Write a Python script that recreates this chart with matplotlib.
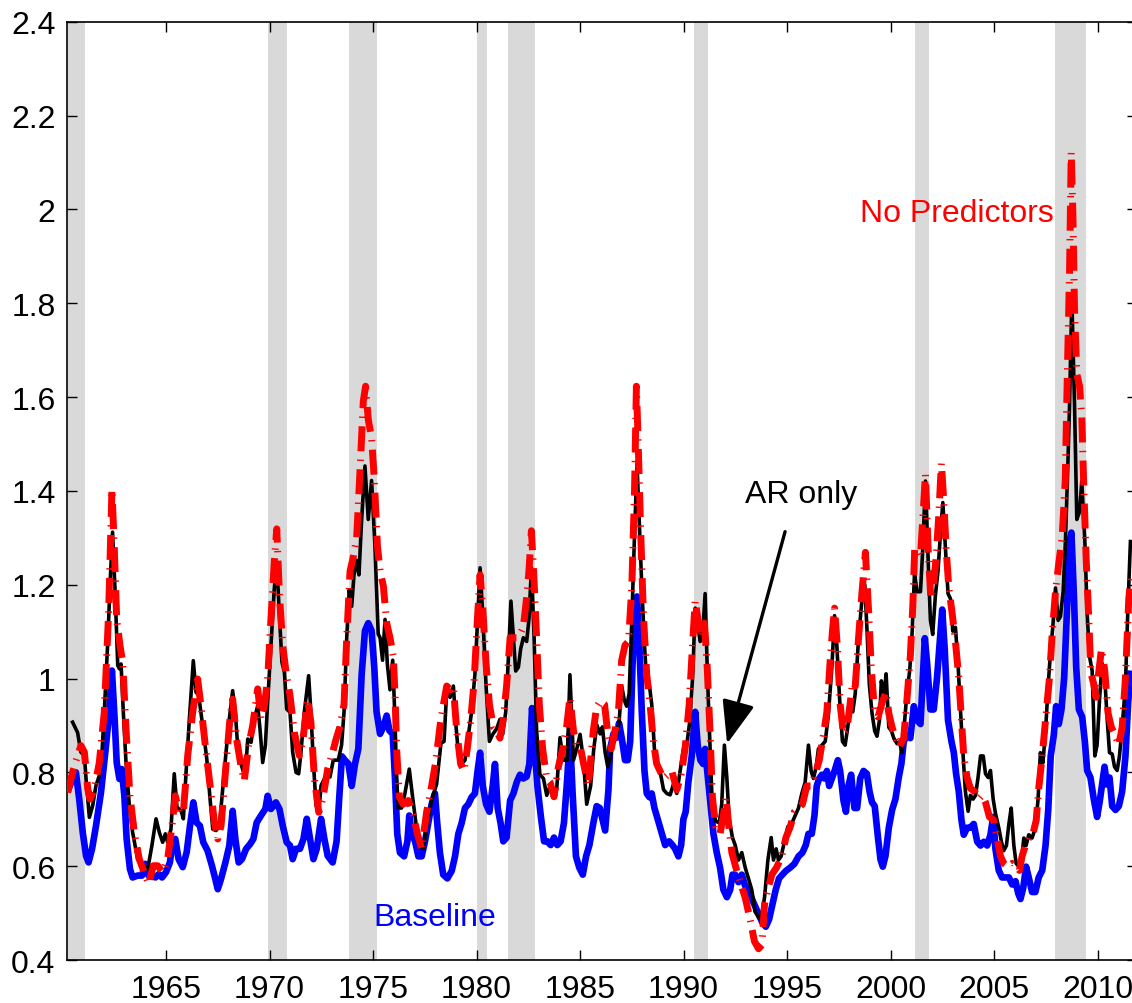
import numpy as np
import matplotlib
matplotlib.use("Agg")
import matplotlib.pyplot as plt

# NBER recessions (start, end) in fractional years
recessions = [(1960.25, 1961.08), (1969.92, 1970.83), (1973.83, 1975.17),
              (1980.0, 1980.5), (1981.5, 1982.83), (1990.5, 1991.17),
              (2001.17, 2001.83), (2007.92, 2009.42)]

# AR only (black)
ar_year = [1960.49, 1960.73, 1960.89, 1961.06, 1961.14, 1961.30, 1961.46, 1961.62, 1961.78, 1961.91,
           1962.02, 1962.18, 1962.31, 1962.42, 1962.55, 1962.67, 1962.75, 1962.83, 1962.94, 1963.07,
           1963.23, 1963.39, 1963.63, 1963.87, 1964.12, 1964.32, 1964.52, 1964.68, 1964.84, 1964.97,
           1965.08, 1965.24, 1965.40, 1965.53, 1965.73, 1965.84, 1965.97, 1966.13, 1966.32, 1966.45,
           1966.58, 1966.77, 1966.97, 1967.13, 1967.26, 1967.42, 1967.58, 1967.74, 1967.90, 1968.06,
           1968.22, 1968.35, 1968.46, 1968.58, 1968.70, 1968.82, 1968.95, 1969.11, 1969.27, 1969.43,
           1969.54, 1969.67, 1969.80, 1969.91, 1970.07, 1970.23, 1970.35, 1970.48, 1970.60, 1970.72,
           1970.83, 1970.99, 1971.12, 1971.28, 1971.41, 1971.52, 1971.68, 1971.89, 1972.00, 1972.12,
           1972.25, 1972.38, 1972.49, 1972.65, 1972.81, 1972.92, 1973.08, 1973.32, 1973.48, 1973.60,
           1973.73, 1973.85, 1973.97, 1974.08, 1974.21, 1974.32, 1974.45, 1974.61, 1974.77, 1974.93,
           1975.09, 1975.25, 1975.34, 1975.46, 1975.58, 1975.69, 1975.82, 1975.95, 1976.06, 1976.14,
           1976.22, 1976.38, 1976.54, 1976.75, 1976.91, 1977.07, 1977.27, 1977.43, 1977.62, 1977.83,
           1978.07, 1978.28, 1978.43, 1978.56, 1978.72, 1978.88, 1979.01, 1979.12, 1979.28, 1979.44,
           1979.60, 1979.76, 1979.92, 1980.05, 1980.17, 1980.30, 1980.46, 1980.62, 1980.78, 1980.97,
           1981.13, 1981.26, 1981.41, 1981.54, 1981.66, 1981.78, 1981.89, 1982.02, 1982.13, 1982.26,
           1982.42, 1982.53, 1982.65, 1982.78, 1982.90, 1983.06, 1983.23, 1983.39, 1983.55, 1983.71,
           1983.87, 1984.03, 1984.19, 1984.38, 1984.51, 1984.68, 1984.84, 1985.00, 1985.16, 1985.32,
           1985.51, 1985.66, 1985.81, 1985.97, 1986.08, 1986.21, 1986.34, 1986.50, 1986.61, 1986.77,
           1986.88, 1987.01, 1987.14, 1987.25, 1987.37, 1987.50, 1987.63, 1987.75, 1987.87, 1987.98,
           1988.11, 1988.22, 1988.33, 1988.46, 1988.59, 1988.70, 1988.86, 1989.03, 1989.19, 1989.35,
           1989.51, 1989.67, 1989.83, 1989.99, 1990.15, 1990.31, 1990.44, 1990.56, 1990.68, 1990.80,
           1990.91, 1991.04, 1991.15, 1991.28, 1991.39, 1991.55, 1991.72, 1991.84, 1991.97, 1992.09,
           1992.20, 1992.36, 1992.49, 1992.65, 1992.81, 1992.97, 1993.13, 1993.29, 1993.45, 1993.62,
           1993.74, 1993.91, 1994.07, 1994.23, 1994.34, 1994.47, 1994.58, 1994.71, 1994.87, 1995.03,
           1995.23, 1995.39, 1995.55, 1995.71, 1995.87, 1996.03, 1996.16, 1996.27, 1996.40, 1996.51,
           1996.68, 1996.84, 1996.99, 1997.16, 1997.29, 1997.40, 1997.53, 1997.67, 1997.80, 1997.93,
           1998.04, 1998.17, 1998.29, 1998.45, 1998.61, 1998.75, 1998.86, 1998.97, 1999.10, 1999.23,
           1999.34, 1999.46, 1999.55, 1999.67, 1999.78, 1999.91, 2000.04, 2000.15, 2000.31, 2000.42,
           2000.55, 2000.68, 2000.79, 2000.92, 2001.04, 2001.15, 2001.28, 2001.44, 2001.55, 2001.68,
           2001.81, 2001.92, 2002.03, 2002.16, 2002.29, 2002.40, 2002.52, 2002.65, 2002.77, 2002.89,
           2003.00, 2003.13, 2003.26, 2003.37, 2003.50, 2003.61, 2003.74, 2003.85, 2003.98, 2004.10,
           2004.22, 2004.34, 2004.47, 2004.58, 2004.71, 2004.82, 2004.95, 2005.06, 2005.22, 2005.35,
           2005.46, 2005.59, 2005.71, 2005.82, 2005.95, 2006.06, 2006.19, 2006.32, 2006.43, 2006.54,
           2006.67, 2006.83, 2006.99, 2007.12, 2007.23, 2007.35, 2007.48, 2007.61, 2007.73, 2007.83,
           2007.96, 2008.09, 2008.20, 2008.33, 2008.44, 2008.55, 2008.64, 2008.75, 2008.88, 2008.99,
           2009.12, 2009.23, 2009.38, 2009.49, 2009.60, 2009.73, 2009.86, 2009.97, 2010.09, 2010.21,
           2010.34, 2010.46, 2010.57, 2010.70, 2010.81, 2010.94, 2011.05, 2011.18, 2011.34, 2011.45,
           2011.58]
ar_val = [0.907, 0.885, 0.843, 0.836, 0.786, 0.704, 0.729, 0.772, 0.793, 0.843,
          0.928, 1.070, 1.212, 1.312, 1.177, 1.028, 1.021, 1.031, 0.928, 0.821,
          0.729, 0.672, 0.615, 0.601, 0.594, 0.644, 0.701, 0.672, 0.651, 0.669,
          0.651, 0.679, 0.797, 0.726, 0.718, 0.701, 0.800, 0.914, 1.038, 0.971,
          0.964, 0.900, 0.829, 0.743, 0.679, 0.676, 0.686, 0.765, 0.843, 0.914,
          0.974, 0.928, 0.857, 0.825, 0.807, 0.790, 0.871, 0.864, 0.914, 0.942,
          0.893, 0.821, 0.857, 0.949, 1.070, 1.191, 1.248, 1.134, 1.035, 1.013,
          0.935, 0.928, 0.843, 0.800, 0.797, 0.843, 0.928, 1.006, 0.928, 0.821,
          0.729, 0.715, 0.772, 0.786, 0.793, 0.790, 0.826, 0.826, 0.858, 0.929,
          1.087, 1.189, 1.154, 1.221, 1.252, 1.221, 1.339, 1.453, 1.339, 1.422,
          1.284, 1.095, 1.087, 1.039, 1.126, 1.031, 0.976, 1.039, 0.913, 0.787,
          0.724, 0.724, 0.755, 0.807, 0.748, 0.692, 0.645, 0.637, 0.692, 0.740,
          0.775, 0.862, 0.866, 0.976, 0.960, 0.984, 0.897, 0.842, 0.818, 0.826,
          0.877, 0.929, 1.008, 1.126, 1.236, 1.134, 0.984, 0.866, 0.881, 0.893,
          0.913, 0.881, 0.929, 1.047, 1.165, 1.087, 1.016, 1.024, 1.063, 1.087,
          1.079, 1.126, 1.236, 1.087, 0.889, 0.795, 0.787, 0.751, 0.771, 0.763,
          0.763, 0.874, 0.826, 0.826, 1.008, 0.826, 0.850, 0.881, 0.826, 0.732,
          0.771, 0.850, 0.901, 0.882, 0.897, 0.842, 0.811, 0.842, 0.886, 0.882,
          0.905, 0.984, 0.953, 0.941, 0.968, 1.126, 1.308, 1.457, 1.323, 1.197,
          1.071, 0.992, 0.992, 0.945, 0.850, 0.818, 0.803, 0.763, 0.755, 0.752,
          0.775, 0.755, 0.803, 0.850, 0.858, 0.913, 1.008, 1.150, 1.118, 1.079,
          1.087, 1.181, 1.008, 0.850, 0.724, 0.696, 0.692, 0.732, 0.858, 0.787,
          0.700, 0.661, 0.645, 0.613, 0.629, 0.598, 0.574, 0.550, 0.503, 0.491,
          0.487, 0.534, 0.613, 0.661, 0.613, 0.637, 0.613, 0.621, 0.653, 0.684,
          0.692, 0.708, 0.724, 0.755, 0.779, 0.858, 0.803, 0.787, 0.811, 0.850,
          0.858, 0.866, 0.921, 1.024, 1.134, 1.071, 0.960, 0.866, 0.858, 0.897,
          0.945, 0.929, 0.968, 1.087, 1.166, 1.200, 1.101, 0.987, 0.926, 0.888,
          0.877, 0.911, 0.995, 0.957, 1.010, 0.896, 0.888, 0.873, 0.861, 0.865,
          0.842, 0.911, 0.972, 1.017, 1.101, 1.223, 1.185, 1.185, 1.276, 1.421,
          1.254, 1.124, 1.094, 1.177, 1.231, 1.307, 1.375, 1.276, 1.181, 1.170,
          1.101, 1.109, 1.025, 0.934, 0.835, 0.759, 0.717, 0.751, 0.743, 0.751,
          0.789, 0.835, 0.835, 0.797, 0.789, 0.804, 0.743, 0.713, 0.682, 0.652,
          0.633, 0.644, 0.690, 0.724, 0.644, 0.606, 0.599, 0.614, 0.660, 0.644,
          0.667, 0.660, 0.682, 0.743, 0.842, 0.820, 0.888, 0.987, 1.063, 1.109,
          1.193, 1.124, 1.132, 1.185, 1.292, 1.444, 1.583, 1.812, 1.583, 1.339,
          1.355, 1.420, 1.292, 1.139, 1.048, 1.017, 0.835, 0.858, 0.957, 1.033,
          1.002, 0.911, 0.842, 0.839, 0.812, 0.804, 0.835, 0.896, 0.987, 1.139,
          1.292]

# No Predictors (red, dash-dot)
np_year = [1960.25, 1960.49, 1960.62, 1960.89, 1961.06, 1961.22, 1961.33, 1961.54, 1961.78, 1962.02,
           1962.23, 1962.39, 1962.50, 1962.62, 1962.78, 1962.91, 1963.07, 1963.26, 1963.47, 1963.71,
           1963.95, 1964.16, 1964.39, 1964.60, 1964.84, 1965.08, 1965.29, 1965.45, 1965.65, 1965.84,
           1966.05, 1966.29, 1966.53, 1966.69, 1966.90, 1967.13, 1967.34, 1967.50, 1967.66, 1967.87,
           1968.09, 1968.22, 1968.41, 1968.62, 1968.78, 1968.99, 1969.19, 1969.43, 1969.59, 1969.75,
           1969.91, 1970.07, 1970.23, 1970.35, 1970.48, 1970.64, 1970.80, 1970.99, 1971.20, 1971.44,
           1971.62, 1971.84, 1972.00, 1972.17, 1972.38, 1972.57, 1972.81, 1973.05, 1973.21, 1973.40,
           1973.60, 1973.73, 1973.89, 1974.05, 1974.21, 1974.37, 1974.53, 1974.64, 1974.77, 1974.93,
           1975.06, 1975.21, 1975.34, 1975.50, 1975.66, 1975.82, 1975.98, 1976.06, 1976.14, 1976.27,
           1976.46, 1976.70, 1976.95, 1977.14, 1977.35, 1977.59, 1977.83, 1978.04, 1978.23, 1978.40,
           1978.56, 1978.72, 1978.88, 1979.04, 1979.23, 1979.39, 1979.55, 1979.72, 1979.88, 1980.04,
           1980.17, 1980.30, 1980.46, 1980.62, 1980.81, 1980.97, 1981.13, 1981.29, 1981.45, 1981.62,
           1981.78, 1981.94, 1982.10, 1982.26, 1982.42, 1982.53, 1982.65, 1982.78, 1982.90, 1983.03,
           1983.19, 1983.39, 1983.55, 1983.74, 1983.95, 1984.16, 1984.35, 1984.51, 1984.68, 1984.87,
           1985.03, 1985.24, 1985.40, 1985.64, 1985.80, 1985.97, 1986.18, 1986.34, 1986.50, 1986.66,
           1986.85, 1987.01, 1987.17, 1987.34, 1987.50, 1987.63, 1987.72, 1987.82, 1987.93, 1988.06,
           1988.22, 1988.38, 1988.54, 1988.70, 1988.86, 1989.03, 1989.24, 1989.43, 1989.67, 1989.88,
           1990.07, 1990.27, 1990.43, 1990.56, 1990.72, 1990.85, 1991.01, 1991.14, 1991.28, 1991.39,
           1991.55, 1991.76, 1991.92, 1992.04, 1992.17, 1992.33, 1992.52, 1992.73, 1992.97, 1993.21,
           1993.42, 1993.62, 1993.78, 1993.91, 1994.07, 1994.26, 1994.50, 1994.74, 1994.94, 1995.15,
           1995.35, 1995.55, 1995.74, 1995.95, 1996.16, 1996.35, 1996.55, 1996.76, 1996.92, 1997.08,
           1997.19, 1997.29, 1997.42, 1997.56, 1997.72, 1997.88, 1998.04, 1998.16, 1998.29, 1998.45,
           1998.61, 1998.78, 1998.94, 1999.07, 1999.23, 1999.39, 1999.59, 1999.78, 1999.91, 2000.07,
           2000.23, 2000.42, 2000.63, 2000.79, 2000.95, 2001.07, 2001.16, 2001.29, 2001.44, 2001.57,
           2001.68, 2001.81, 2001.94, 2002.07, 2002.19, 2002.32, 2002.45, 2002.57, 2002.68, 2002.81,
           2002.97, 2003.13, 2003.29, 2003.42, 2003.53, 2003.69, 2003.85, 2004.06, 2004.26, 2004.42,
           2004.58, 2004.77, 2004.98, 2005.14, 2005.30, 2005.46, 2005.67, 2005.87, 2006.06, 2006.22,
           2006.35, 2006.51, 2006.67, 2006.86, 2007.03, 2007.15, 2007.32, 2007.51, 2007.67, 2007.80,
           2007.96, 2008.12, 2008.28, 2008.43, 2008.54, 2008.64, 2008.72, 2008.80, 2008.88, 2008.99,
           2009.12, 2009.23, 2009.32, 2009.44, 2009.56, 2009.67, 2009.80, 2009.92, 2010.02, 2010.18,
           2010.34, 2010.50, 2010.66, 2010.83, 2011.02, 2011.18, 2011.34, 2011.50, 2011.60]
np_val = [0.757, 0.800, 0.820, 0.857, 0.843, 0.765, 0.743, 0.765, 0.821, 0.928,
          1.141, 1.404, 1.283, 1.127, 1.070, 1.035, 0.892, 0.750, 0.672, 0.615,
          0.587, 0.562, 0.601, 0.601, 0.587, 0.615, 0.686, 0.750, 0.715, 0.715,
          0.836, 0.928, 0.999, 0.942, 0.857, 0.772, 0.694, 0.658, 0.686, 0.800,
          0.914, 0.956, 0.871, 0.814, 0.782, 0.857, 0.900, 0.978, 0.914, 0.942,
          0.999, 1.127, 1.248, 1.319, 1.177, 1.070, 1.013, 0.964, 0.885, 0.836,
          0.871, 0.956, 0.907, 0.786, 0.715, 0.743, 0.807, 0.843, 0.870, 0.897,
          0.945, 1.087, 1.229, 1.260, 1.300, 1.442, 1.591, 1.623, 1.552, 1.513,
          1.426, 1.284, 1.229, 1.197, 1.118, 1.087, 1.047, 0.968, 0.850, 0.748,
          0.732, 0.740, 0.708, 0.669, 0.637, 0.716, 0.771, 0.826, 0.897, 0.945,
          0.984, 0.976, 0.984, 0.889, 0.818, 0.803, 0.850, 0.913, 0.992, 1.126,
          1.221, 1.150, 1.031, 0.945, 0.897, 0.889, 0.873, 0.913, 0.984, 1.087,
          1.087, 1.087, 1.094, 1.110, 1.173, 1.229, 1.315, 1.205, 1.087, 0.945,
          0.850, 0.787, 0.779, 0.748, 0.811, 0.850, 0.897, 0.960, 0.889, 0.850,
          0.850, 0.803, 0.771, 0.889, 0.940, 0.952, 0.945, 0.882, 0.850, 0.882,
          0.929, 1.039, 1.071, 1.079, 1.197, 1.402, 1.623, 1.481, 1.308, 1.134,
          1.008, 0.945, 0.866, 0.818, 0.803, 0.787, 0.795, 0.803, 0.763, 0.795,
          0.850, 0.945, 1.071, 1.166, 1.118, 1.087, 1.118, 1.024, 0.882, 0.747,
          0.684, 0.669, 0.708, 0.747, 0.692, 0.629, 0.598, 0.566, 0.534, 0.487,
          0.440, 0.424, 0.432, 0.519, 0.550, 0.582, 0.598, 0.621, 0.661, 0.684,
          0.716, 0.724, 0.732, 0.771, 0.771, 0.795, 0.826, 0.882, 0.929, 1.039,
          1.102, 1.150, 1.071, 0.945, 0.882, 0.889, 0.945, 0.992, 0.984, 1.087,
          1.181, 1.269, 1.139, 1.017, 0.926, 0.918, 0.949, 0.972, 0.926, 0.896,
          0.873, 0.854, 0.873, 0.957, 1.048, 1.155, 1.276, 1.276, 1.261, 1.353,
          1.436, 1.276, 1.170, 1.200, 1.254, 1.345, 1.459, 1.375, 1.276, 1.193,
          1.139, 1.078, 1.002, 0.911, 0.835, 0.789, 0.766, 0.759, 0.743, 0.751,
          0.736, 0.705, 0.698, 0.660, 0.622, 0.606, 0.599, 0.606, 0.599, 0.591,
          0.622, 0.644, 0.660, 0.667, 0.698, 0.766, 0.835, 0.926, 1.002, 1.094,
          1.185, 1.246, 1.300, 1.420, 1.665, 1.869, 2.122, 1.991, 1.787, 1.649,
          1.624, 1.559, 1.420, 1.257, 1.135, 1.012, 0.990, 0.960, 1.002, 1.063,
          1.017, 0.926, 0.896, 0.880, 0.858, 0.896, 1.002, 1.170, 1.215]

# Baseline (blue)
bl_year = [1960.30, 1960.49, 1960.65, 1960.81, 1960.98, 1961.14, 1961.26, 1961.43, 1961.62, 1961.86,
           1962.07, 1962.23, 1962.39, 1962.52, 1962.62, 1962.75, 1962.86, 1962.99, 1963.10, 1963.26,
           1963.39, 1963.63, 1963.84, 1964.00, 1964.16, 1964.32, 1964.49, 1964.65, 1964.81, 1965.00,
           1965.19, 1965.32, 1965.45, 1965.61, 1965.81, 1966.00, 1966.16, 1966.32, 1966.48, 1966.64,
           1966.80, 1967.01, 1967.22, 1967.38, 1967.50, 1967.66, 1967.87, 1968.06, 1968.22, 1968.35,
           1968.51, 1968.67, 1968.87, 1969.06, 1969.22, 1969.38, 1969.59, 1969.80, 1969.91, 1970.07,
           1970.31, 1970.48, 1970.64, 1970.83, 1970.99, 1971.12, 1971.28, 1971.47, 1971.64, 1971.80,
           1971.96, 1972.12, 1972.28, 1972.49, 1972.65, 1972.81, 1973.05, 1973.24, 1973.37, 1973.50,
           1973.64, 1973.81, 1973.97, 1974.13, 1974.29, 1974.45, 1974.61, 1974.77, 1974.93, 1975.06,
           1975.17, 1975.34, 1975.50, 1975.66, 1975.79, 1975.95, 1976.06, 1976.17, 1976.30, 1976.50,
           1976.66, 1976.75, 1976.87, 1977.03, 1977.19, 1977.35, 1977.51, 1977.67, 1977.83, 1977.99,
           1978.10, 1978.23, 1978.39, 1978.59, 1978.80, 1978.96, 1979.12, 1979.28, 1979.44, 1979.60,
           1979.76, 1979.92, 1980.05, 1980.17, 1980.30, 1980.46, 1980.62, 1980.78, 1980.89, 1981.02,
           1981.16, 1981.29, 1981.45, 1981.62, 1981.78, 1981.94, 1982.10, 1982.26, 1982.42, 1982.55,
           1982.68, 1982.81, 1982.94, 1983.10, 1983.26, 1983.42, 1983.58, 1983.74, 1983.90, 1984.06,
           1984.22, 1984.38, 1984.51, 1984.64, 1984.80, 1984.96, 1985.13, 1985.29, 1985.45, 1985.64,
           1985.80, 1985.95, 1986.08, 1986.21, 1986.37, 1986.45, 1986.61, 1986.77, 1986.88, 1987.01,
           1987.17, 1987.30, 1987.42, 1987.53, 1987.66, 1987.75, 1987.85, 1987.98, 1988.11, 1988.22,
           1988.35, 1988.46, 1988.59, 1988.75, 1988.95, 1989.11, 1989.30, 1989.46, 1989.59, 1989.75,
           1989.88, 1989.99, 1990.10, 1990.23, 1990.39, 1990.56, 1990.68, 1990.81, 1990.94, 1991.04,
           1991.14, 1991.28, 1991.44, 1991.60, 1991.76, 1991.92, 1992.09, 1992.25, 1992.36, 1992.49,
           1992.65, 1992.81, 1992.97, 1993.13, 1993.33, 1993.49, 1993.65, 1993.81, 1993.97, 1994.13,
           1994.29, 1994.45, 1994.61, 1994.77, 1994.94, 1995.15, 1995.35, 1995.55, 1995.74, 1995.90,
           1996.03, 1996.19, 1996.32, 1996.43, 1996.55, 1996.68, 1996.80, 1996.92, 1997.03, 1997.16,
           1997.29, 1997.45, 1997.56, 1997.72, 1997.84, 1997.96, 1998.09, 1998.25, 1998.38, 1998.53,
           1998.69, 1998.85, 1998.98, 1999.10, 1999.23, 1999.39, 1999.51, 1999.62, 1999.75, 1999.91,
           2000.07, 2000.23, 2000.39, 2000.52, 2000.63, 2000.79, 2000.95, 2001.12, 2001.28, 2001.44,
           2001.57, 2001.65, 2001.76, 2001.92, 2002.08, 2002.24, 2002.37, 2002.49, 2002.61, 2002.77,
           2002.94, 2003.05, 2003.16, 2003.29, 2003.42, 2003.53, 2003.69, 2003.85, 2004.01, 2004.18,
           2004.34, 2004.50, 2004.66, 2004.82, 2004.95, 2005.06, 2005.22, 2005.38, 2005.54, 2005.71,
           2005.87, 2006.03, 2006.16, 2006.27, 2006.40, 2006.54, 2006.67, 2006.83, 2006.99, 2007.15,
           2007.32, 2007.48, 2007.61, 2007.73, 2007.88, 2007.99, 2008.12, 2008.25, 2008.38, 2008.51,
           2008.64, 2008.73, 2008.85, 2008.96, 2009.09, 2009.25, 2009.38, 2009.49, 2009.65, 2009.81,
           2009.97, 2010.09, 2010.21, 2010.33, 2010.44, 2010.57, 2010.70, 2010.86, 2011.02, 2011.18,
           2011.34, 2011.47, 2011.58]
bl_val = [0.765, 0.786, 0.800, 0.743, 0.672, 0.622, 0.608, 0.637, 0.686, 0.757,
          0.843, 0.914, 1.017, 0.914, 0.821, 0.786, 0.807, 0.750, 0.658, 0.594,
          0.576, 0.580, 0.580, 0.605, 0.580, 0.583, 0.576, 0.583, 0.576, 0.587,
          0.608, 0.651, 0.658, 0.615, 0.598, 0.630, 0.686, 0.736, 0.693, 0.686,
          0.651, 0.633, 0.601, 0.573, 0.551, 0.573, 0.608, 0.644, 0.718, 0.658,
          0.608, 0.615, 0.637, 0.647, 0.658, 0.693, 0.708, 0.722, 0.750, 0.722,
          0.736, 0.722, 0.686, 0.651, 0.644, 0.615, 0.637, 0.637, 0.658, 0.701,
          0.658, 0.615, 0.637, 0.701, 0.658, 0.622, 0.608, 0.653, 0.747, 0.834,
          0.826, 0.818, 0.771, 0.818, 0.850, 1.008, 1.102, 1.118, 1.102, 1.024,
          0.929, 0.882, 0.897, 0.921, 0.889, 0.882, 0.787, 0.669, 0.629, 0.621,
          0.653, 0.708, 0.669, 0.653, 0.621, 0.621, 0.653, 0.692, 0.732, 0.755,
          0.692, 0.629, 0.582, 0.574, 0.590, 0.621, 0.669, 0.692, 0.724, 0.732,
          0.747, 0.755, 0.803, 0.842, 0.771, 0.732, 0.716, 0.771, 0.818, 0.724,
          0.692, 0.653, 0.661, 0.740, 0.755, 0.779, 0.795, 0.787, 0.791, 0.818,
          0.937, 0.850, 0.771, 0.708, 0.653, 0.653, 0.645, 0.661, 0.645, 0.653,
          0.692, 0.787, 0.882, 0.755, 0.621, 0.597, 0.582, 0.621, 0.645, 0.692,
          0.728, 0.724, 0.700, 0.676, 0.763, 0.850, 0.882, 0.874, 0.905, 0.874,
          0.826, 0.826, 0.866, 1.024, 1.166, 1.175, 1.087, 0.929, 0.803, 0.755,
          0.747, 0.755, 0.724, 0.700, 0.669, 0.645, 0.653, 0.645, 0.637, 0.621,
          0.645, 0.700, 0.716, 0.779, 0.834, 0.929, 0.858, 0.826, 0.818, 0.850,
          0.803, 0.740, 0.669, 0.629, 0.597, 0.550, 0.534, 0.550, 0.582, 0.582,
          0.566, 0.582, 0.558, 0.550, 0.527, 0.511, 0.495, 0.479, 0.471, 0.487,
          0.519, 0.550, 0.574, 0.582, 0.590, 0.597, 0.605, 0.621, 0.629, 0.645,
          0.669, 0.669, 0.708, 0.771, 0.787, 0.795, 0.787, 0.803, 0.771, 0.787,
          0.803, 0.826, 0.803, 0.740, 0.716, 0.771, 0.795, 0.724, 0.724, 0.787,
          0.803, 0.797, 0.759, 0.736, 0.728, 0.660, 0.614, 0.599, 0.622, 0.682,
          0.720, 0.743, 0.789, 0.819, 0.865, 0.880, 0.873, 0.941, 0.911, 0.903,
          1.017, 1.086, 1.033, 0.934, 0.934, 1.002, 1.078, 1.147, 1.063, 0.911,
          0.865, 0.842, 0.797, 0.759, 0.698, 0.667, 0.682, 0.682, 0.690, 0.652,
          0.644, 0.652, 0.644, 0.667, 0.705, 0.637, 0.591, 0.576, 0.576, 0.576,
          0.561, 0.568, 0.542, 0.530, 0.553, 0.599, 0.576, 0.545, 0.545, 0.576,
          0.591, 0.644, 0.720, 0.835, 0.880, 0.941, 0.903, 0.934, 1.002, 1.139,
          1.292, 1.311, 1.177, 1.025, 0.934, 0.918, 0.865, 0.804, 0.789, 0.743,
          0.705, 0.736, 0.774, 0.812, 0.774, 0.789, 0.728, 0.720, 0.728, 0.759,
          0.835, 0.949, 1.010]

yticks = [0.4, 0.6, 0.8, 1.0, 1.2, 1.4, 1.6, 1.8, 2.0, 2.2, 2.4]
xticks = [1965, 1970, 1975, 1980, 1985, 1990, 1995, 2000, 2005, 2010]

plt.rcParams['font.family'] = ['Liberation Sans', 'DejaVu Sans']

fig = plt.figure(figsize=(11.32, 10.04), dpi=100)
ax = fig.add_axes([0.0589, 0.0428, 0.9452, 0.9346])

for start, end in recessions:
    ax.axvspan(start, end, color='#d9d9d9', lw=0, zorder=0)

ax.plot(bl_year, bl_val, color='#0000ff', lw=4.8, zorder=2, solid_joinstyle='round')
ax.plot(ar_year, ar_val, color='black', lw=2.6, zorder=3)
ax.plot(np_year, np_val, color='#ff0000', lw=5.0, dashes=(3.6, 1.2, 0.2, 1.2), zorder=4)

ax.set_xlim(1960.204, 2011.88)
ax.set_ylim(0.4, 2.4)
ax.set_xticks(xticks)
ax.set_yticks(yticks)
ax.set_yticklabels([f'{v:g}' for v in yticks])
ax.tick_params(direction='in', length=7, width=1, top=True, right=True, labelsize=23)
ax.tick_params(axis='y', pad=8)
ax.tick_params(axis='x', pad=10)
for sp in ax.spines.values():
    sp.set_linewidth(1.2)

ax.text(2003.18, 1.975, 'No Predictors', color='#ff0000', fontsize=23, ha='center', va='baseline')
ax.text(1995.67, 1.376, 'AR only', color='black', fontsize=23, ha='center', va='baseline')
ax.text(1977.99, 0.4746, 'Baseline', color='#0000ff', fontsize=23, ha='center', va='baseline')
ax.annotate('', xy=(1992.10, 0.861), xytext=(1994.90, 1.313),
            arrowprops=dict(arrowstyle='-|>,head_length=1.1,head_width=0.42',
                            color='black', lw=2.4, mutation_scale=24,
                            shrinkA=0, shrinkB=0))

fig.savefig('out.png', dpi=100)
